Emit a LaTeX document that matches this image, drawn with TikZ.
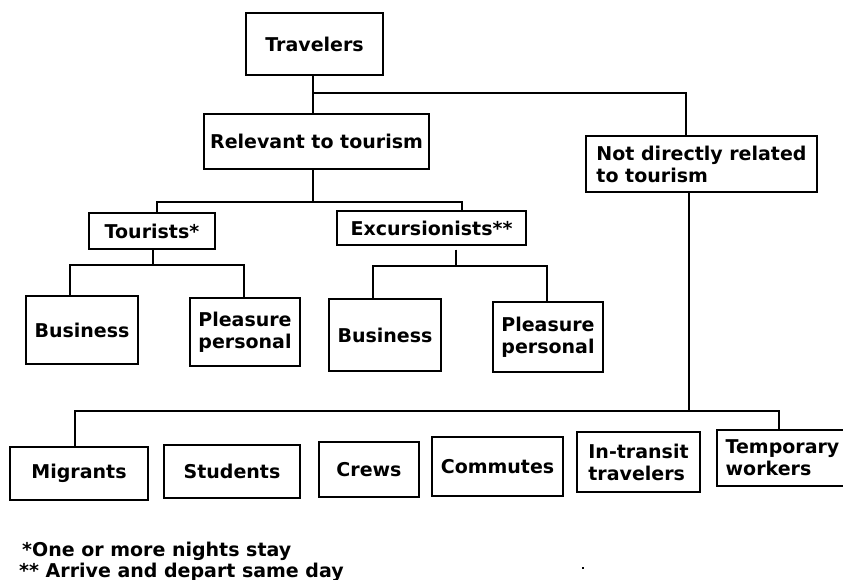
\documentclass[tikz,border=0pt]{standalone}
\usepackage{fontspec}
\setmainfont{DejaVu Sans}
\tikzstyle{tree-box}=[draw, line width=1.3pt, inner sep=0pt, align=center, font=\bfseries\fontsize{19}{22}\selectfont]
\tikzstyle{tree-line}=[line width=1.3pt]
\tikzstyle{tree-note}=[inner sep=0pt, anchor=base west, font=\bfseries\fontsize{19}{21}\selectfont]

\begin{document}
\begin{tikzpicture}[x=1pt, y=-1pt]
      \path[use as bounding box, fill=white] (0,0) rectangle (843,580);

      \node (travelers) at (314.5,44) [tree-box, minimum width=137pt, minimum height=62pt] {Travelers};
      \node (relevant) at (316.5,141.5) [tree-box, minimum width=225pt, minimum height=55pt] {Relevant to tourism};
      \node (other) at (701.5,164) [tree-box, align=left, minimum width=231pt, minimum height=56pt] {Not directly related\\to tourism};

      \node (tourists) at (152,231) [tree-box, minimum width=126pt, minimum height=36pt] {Tourists*};
      \node (excursionists) at (431.5,228) [tree-box, minimum width=189pt, minimum height=34pt] {Excursionists**};

      \node (tourbusiness) at (82,330) [tree-box, minimum width=112pt, minimum height=68pt] {Business};
      \node (tourpleasure) at (245,332) [tree-box, minimum width=110pt, minimum height=68pt] {Pleasure\\personal};
      \node (excbusiness) at (385,335) [tree-box, minimum width=112pt, minimum height=72pt] {Business};
      \node (excpleasure) at (548,337) [tree-box, minimum width=110pt, minimum height=70pt] {Pleasure\\personal};

      \node (migrants) at (79,473.5) [tree-box, minimum width=138pt, minimum height=53pt] {Migrants};
      \node (students) at (232,471.5) [tree-box, minimum width=136pt, minimum height=53pt] {Students};
      \node (crews) at (369,469.5) [tree-box, minimum width=100pt, minimum height=55pt] {Crews};
      \node (commutes) at (497.5,466.5) [tree-box, minimum width=131pt, minimum height=59pt] {Commutes};
      \node (transit) at (638.5,462) [tree-box, align=left, minimum width=123pt, minimum height=60pt] {In-transit\\travelers};
      \node (temporary) at (782.5,458) [tree-box, align=left, minimum width=131pt, minimum height=56pt] {Temporary\\workers};

      \coordinate (topsplit) at (313,93);
      \coordinate (relsplit) at (313,202);
      \coordinate (toursplit) at (153,265);
      \coordinate (excsplit) at (456,266);
      \coordinate (othersplit) at (689,411);

      \draw[tree-line] (travelers.south -| topsplit) -- (relevant.north -| topsplit);
      \draw[tree-line] (topsplit) -| ([xshift=-15.5pt]other.north);

      \draw[tree-line] (relevant.south -| relsplit) -- (relsplit);
      \draw[tree-line] ([xshift=5pt]tourists.north) |- (relsplit) -| ([xshift=30.5pt]excursionists.north);

      \draw[tree-line] (tourists.south -| toursplit) -- (toursplit);
      \draw[tree-line] ([xshift=-12pt]tourbusiness.north) |- (toursplit) -| ([xshift=-1pt]tourpleasure.north);

      \draw[tree-line] ([yshift=-4pt]excursionists.south -| excsplit) -- (excsplit);
      \draw[tree-line] ([xshift=-12pt]excbusiness.north) |- (excsplit) -| ([xshift=-1pt]excpleasure.north);

      \draw[tree-line] (other.south -| othersplit) -- (othersplit);
      \draw[tree-line] ([xshift=-4pt]migrants.north) |- (othersplit) -| ([xshift=-3.5pt]temporary.north);

      \node (tourists-note) at (22,556) [tree-note] {*One or more nights stay};
      \node (excursionists-note) at (19,577) [tree-note] {** Arrive and depart same day};
      \fill (582,567) rectangle (584,569);
    \end{tikzpicture}
\end{document}
